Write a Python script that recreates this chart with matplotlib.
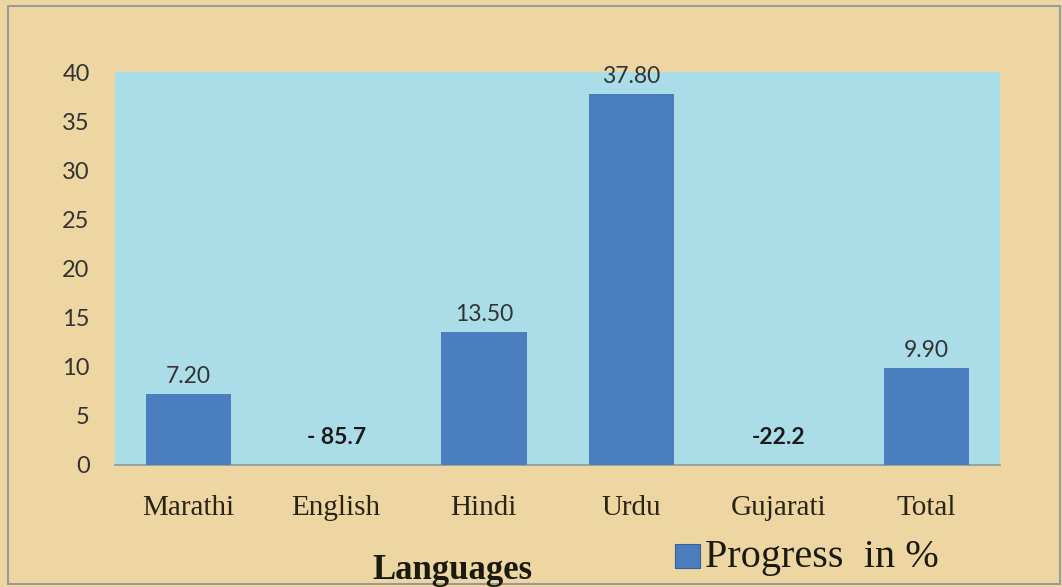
import numpy as np
import matplotlib.pyplot as plt
from matplotlib.patches import Rectangle

# Data
languages = ['Marathi', 'English', 'Hindi', 'Urdu', 'Gujarati', 'Total']
progress = [7.20, -85.7, 13.50, 37.80, -22.2, 9.90]
value_labels = ['7.20', '- 85.7', '13.50', '37.80', '-22.2', '9.90']
y_ticks = [0, 5, 10, 15, 20, 25, 30, 35, 40]

BAR_COLOR = '#4A7EBF'
PAPER = '#EED6A3'
WATER = '#ABDDE9'

fig = plt.figure(figsize=(10.62, 5.87), dpi=100, facecolor=PAPER)
fig.patches.append(Rectangle((0.008, 0.005), 0.99, 0.985, transform=fig.transFigure,
                             fill=False, edgecolor='#9A9A9A', linewidth=1.5))

ax = fig.add_axes([0.108, 0.208, 0.834, 0.669])
ax.set_facecolor(WATER)

x = np.arange(len(languages))
bars = ax.bar(x, progress, width=0.58, color=BAR_COLOR, zorder=3)
ax.set_ylim(0, 40)
ax.set_xlim(-0.5, len(languages) - 0.5)

for xi, v, lab in zip(x, progress, value_labels):
    if v >= 0:
        ax.annotate(lab, (xi, v), xytext=(0, 5), textcoords='offset points',
                    ha='center', va='bottom', fontsize=16.5, color='#333333',
                    family='Lato', zorder=4)
    else:
        ax.annotate(lab, (xi, 0), xytext=(0, 20), textcoords='offset points',
                    ha='center', va='center', fontsize=16.5, fontweight='bold',
                    color='#1a1a1a', family='Lato', zorder=4)

ax.set_yticks(y_ticks)
ax.set_xticks(x)
ax.set_xticklabels(languages, family='Liberation Serif', fontsize=21, color='#2a2414')
for t in ax.get_yticklabels():
    t.set_family('Lato')
    t.set_fontsize(17)
    t.set_color('#333333')
ax.tick_params(length=0)
ax.tick_params(axis='x', pad=22)
ax.tick_params(axis='y', pad=18)
for s in ['top', 'right', 'left']:
    ax.spines[s].set_visible(False)
ax.spines['bottom'].set_color('#8a9a9a')
ax.spines['bottom'].set_linewidth(1.2)

fig.text(0.426, 0.028, 'Languages', ha='center', va='center', family='Liberation Serif',
         fontsize=25, fontweight='bold', color='#1a1a10')

fig.patches.append(Rectangle((0.636, 0.032), 0.023, 0.042, transform=fig.transFigure,
                             facecolor=BAR_COLOR, edgecolor='#3a5f90', linewidth=0.8))
fig.text(0.664, 0.05, 'Progress  in %', ha='left', va='center', family='Liberation Serif',
         fontsize=29, color='#1a1a10')

plt.savefig('out.png', dpi=100, facecolor=fig.get_facecolor())
